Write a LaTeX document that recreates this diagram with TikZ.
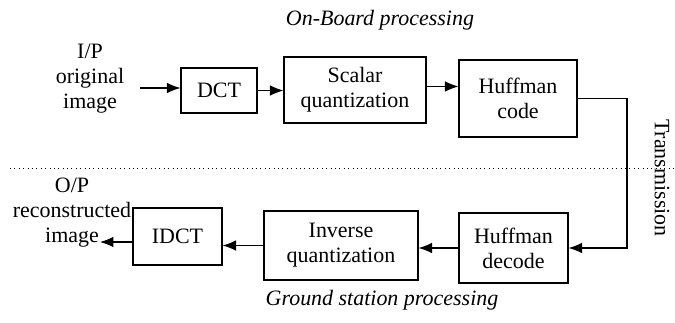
\documentclass[tikz,border=0pt]{standalone}
\usepackage{fontspec}
\setmainfont{Liberation Serif}
\usepackage{tikz}
\usetikzlibrary{arrows.meta,positioning}

\begin{document}
\begin{tikzpicture}[x=0.02cm, y=-0.02cm, >={Latex[length=2.7mm,width=2.1mm]},
  every node/.style={font=\fontsize{12.5}{14.2}\selectfont},
  block/.style={draw, line width=0.6pt, align=center, inner sep=0pt}]
\path[use as bounding box] (0,0) rectangle (675,322);
\node[block, minimum width=1.52cm, minimum height=0.9cm] (dct) at (219,90.5) {DCT};
\node[block, minimum width=2.84cm, minimum height=1.32cm] (quant) at (355,90) {Scalar\\quantization};
\node[block, minimum width=2.36cm, minimum height=1.54cm] (hcode) at (518,98.5) {Huffman\\code};
\node[block, minimum width=2.18cm, minimum height=1.4cm] (hdecode) at (513.5,248) {Huffman\\decode};
\node[block, minimum width=3.08cm, minimum height=1.38cm] (iquant) at (341,245.5) {Inverse\\quantization};
\node[block, minimum width=1.78cm, minimum height=1.14cm] (idct) at (177.5,236.5) {IDCT};
\node[align=center] (inlabel) at (90,79) {I/P\\original\\image};
\node[align=center] (outlabel) at (72,213) {O/P\\reconstructed\\image};
\node[font=\fontsize{12.5}{14.2}\selectfont\itshape] (onboard) at (380,20) {On-Board processing};
\node[font=\fontsize{12.5}{14.2}\selectfont\itshape] (ground) at (382,300) {Ground station processing};
\node[rotate=-90] (trans) at (662,178) {Transmission};
\coordinate (in) at (140,88);
\coordinate (out) at (100,242);
\coordinate (tx) at (627,175);
\coordinate (dl) at (10,168);
\coordinate (dr) at (675,168);
\draw[dotted, line width=0.5pt] (dl) -- (dr);
\begin{scope}[line width=0.6pt]
\draw[->] (in) -- (in -| dct.west);
\draw[->] (dct.east) -- (quant.west |- dct.east);
\draw[->] ([yshift=2pt]quant.east) -- ([yshift=2pt]hcode.west |- quant.east);
\draw[->] (hcode.east) -| (tx) |- (hdecode.east);
\draw[->] (hdecode.west) -- (iquant.east |- hdecode.west);
\draw[->] (iquant.west) -- (idct.east |- iquant.west);
\draw[->] (idct.west |- out) -- (out);
\end{scope}
\end{tikzpicture}
\end{document}
